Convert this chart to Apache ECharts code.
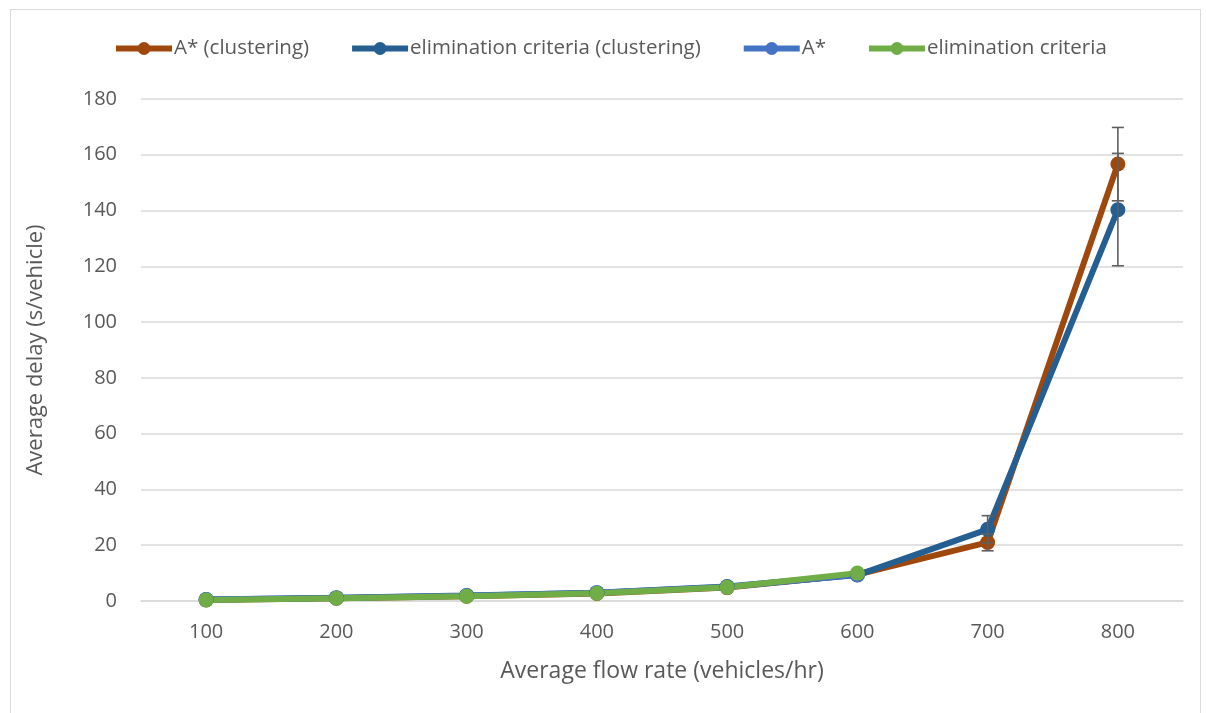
<!DOCTYPE html>
<html>
<head>
<meta charset="utf-8">
<script src="https://cdn.jsdelivr.net/npm/echarts@6/dist/echarts.min.js"></script>
<style>
html,body{margin:0;padding:0;background:#fff;}
#chart{width:1206px;height:713px;}
</style>
</head>
<body>
<div id="chart"></div>
<script>
const categories = ['100','200','300','400','500','600','700','800'];
const aStarClustering = [0.4, 1.0, 1.7, 2.7, 4.8, 9.5, 21.0, 156.7];
const elimClustering = [0.5, 1.2, 2.0, 3.0, 5.2, 9.3, 25.7, 140.3];
const aStar = [0.5, 1.1, 1.9, 3.0, 5.0, 9.4, null, null];
const elimCriteria = [0.4, 1.0, 1.7, 2.8, 4.9, 10.0, null, null];
// error bar ranges [category index, low, high]
const aStarClusteringErr = [[6, 18.0, 24.0], [7, 143.5, 169.8]];
const elimClusteringErr = [[6, 20.8, 30.6], [7, 120.2, 160.5]];
const yTicks = [0, 20, 40, 60, 80, 100, 120, 140, 160, 180];

const FONT = 'Open Sans';
const TXT = '#595959';

function errSeries(name, data) {
  return {
    type: 'custom',
    name: name,
    z: 5,
    silent: true,
    data: data,
    renderItem: function (params, api) {
      const x = api.value(0);
      const lo = api.coord([x, api.value(1)]);
      const hi = api.coord([x, api.value(2)]);
      const hw = 6;
      const st = {stroke: '#5f5f5f', lineWidth: 1.6};
      return {
        type: 'group',
        children: [
          {type: 'line', shape: {x1: lo[0], y1: lo[1], x2: hi[0], y2: hi[1]}, style: st},
          {type: 'line', shape: {x1: lo[0]-hw, y1: lo[1], x2: lo[0]+hw, y2: lo[1]}, style: st},
          {type: 'line', shape: {x1: hi[0]-hw, y1: hi[1], x2: hi[0]+hw, y2: hi[1]}, style: st}
        ]
      };
    }
  };
}

function lineSeries(name, data, color) {
  return {
    type: 'line',
    name: name,
    data: data,
    z: 3,
    symbol: 'circle',
    symbolSize: 15,
    connectNulls: false,
    lineStyle: {color: color, width: 6},
    itemStyle: {color: color},
    emphasis: {disabled: true}
  };
}

const chart = echarts.init(document.getElementById('chart'));
chart.setOption({
  animation: false,
  backgroundColor: '#fff',
  graphic: [{
    type: 'rect', left: 8, top: 7, shape: {width: 1190, height: 720},
    style: {fill: 'none', stroke: '#d9d9d9', lineWidth: 1}, silent: true
  }],
  legend: {
    top: 33,
    left: 108,
    itemWidth: 56,
    itemHeight: 16,
    itemGap: 40,
    lineStyle: {width: 6},
    data: ['A* (clustering)', 'elimination criteria (clustering)', 'A*', 'elimination criteria'],
    textStyle: {fontFamily: FONT, fontSize: 20.5, color: TXT, padding: [0, 0, 0, -3]}
  },
  grid: {left: 141, right: 23, top: 99, bottom: 112},
  xAxis: {
    type: 'category',
    data: categories,
    name: 'Average flow rate (vehicles/hr)',
    nameLocation: 'middle',
    nameGap: 59,
    nameTextStyle: {fontFamily: FONT, fontSize: 23, color: TXT},
    axisLine: {show: true, lineStyle: {color: '#d9d9d9', width: 1.5}},
    axisTick: {show: false},
    axisLabel: {fontFamily: FONT, fontSize: 20, color: TXT, margin: 21}
  },
  yAxis: {
    type: 'value',
    min: yTicks[0],
    max: yTicks[yTicks.length - 1],
    interval: 20,
    name: 'Average delay (s/vehicle)',
    nameLocation: 'middle',
    nameGap: 94,
    nameTextStyle: {fontFamily: FONT, fontSize: 22, color: TXT},
    axisLine: {show: false},
    axisTick: {show: false},
    axisLabel: {fontFamily: FONT, fontSize: 20, color: TXT, margin: 24},
    splitLine: {lineStyle: {color: '#d9d9d9', width: 1.5}}
  },
  series: [
    lineSeries('A* (clustering)', aStarClustering, '#9E480E'),
    lineSeries('elimination criteria (clustering)', elimClustering, '#255E91'),
    lineSeries('A*', aStar, '#4472C4'),
    lineSeries('elimination criteria', elimCriteria, '#70AD47'),
    errSeries('errA', aStarClusteringErr),
    errSeries('errE', elimClusteringErr)
  ]
});
</script>
</body>
</html>
